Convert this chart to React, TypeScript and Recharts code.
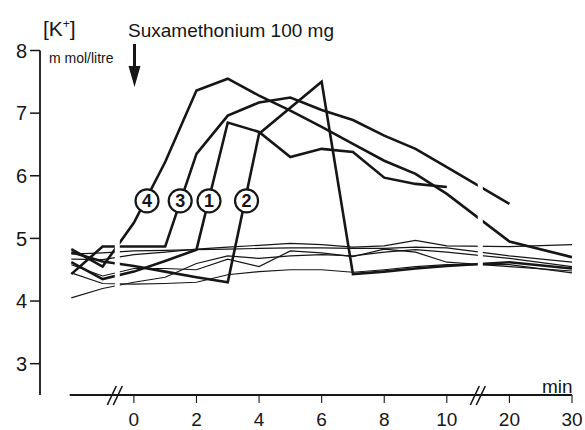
import React from 'react';
import { LineChart, Line, XAxis, YAxis, ReferenceArea, ReferenceLine, ReferenceDot } from 'recharts';

// time in minutes (axis is broken between 10 and 20 min, and before 0)
const minutes = [-2, -1, 0, 1, 2, 3, 4, 5, 6, 7, 8, 9, 10, 20, 30];
const xTicks = [0, 2, 4, 6, 8, 10, 20, 30];
const yTicks = [3, 4, 5, 6, 7, 8];

// [K+] mmol/litre, bold labelled curves
const curve1 = [4.62, 4.35, 4.47, 4.64, 4.82, 6.85, 6.7, 6.3, 6.43, 6.38, 5.97, 5.87, 5.82, null, null];
const curve2 = [4.78, 4.63, 4.56, 4.47, 4.38, 4.3, 6.67, null, 7.5, 4.43, 4.47, 4.52, 4.56, 4.62, 4.52];
const curve3 = [4.43, 4.87, 4.87, 4.87, 6.35, 6.96, 7.17, 7.25, 7.05, 6.89, 6.64, 6.43, 6.14, 5.55, null];
const curve4 = [4.83, 4.55, 5.25, 6.22, 7.36, 7.55, 7.28, 7.04, 6.78, 6.51, 6.24, 6.03, 5.71, 4.95, 4.7];

// thin (unlabelled) curves
const thinA = [4.67, 4.66, 4.74, 4.78, 4.83, 4.86, 4.89, 4.92, 4.9, 4.86, 4.88, 4.97, 4.88, 4.87, 4.9];
const thinB = [4.75, 4.77, 4.8, 4.81, 4.82, 4.83, 4.84, 4.85, 4.85, 4.84, 4.84, 4.86, 4.85, 4.72, 4.62];
const thinC = [4.58, 4.4, 4.52, 4.52, 4.5, 4.67, 4.55, 4.8, 4.77, 4.71, 4.83, 4.78, 4.62, 4.55, 4.48];
const thinD = [4.05, 4.2, 4.3, 4.38, 4.6, 4.72, 4.68, 4.72, 4.74, 4.72, 4.78, 4.82, 4.78, 4.68, 4.55];
const thinE = [4.45, 4.28, 4.27, 4.28, 4.3, 4.42, 4.47, 4.5, 4.5, 4.46, 4.5, 4.55, 4.58, 4.58, 4.45];

const curveLabels = ['4', '3', '1', '2'];
const curveLabelMinutes = [0.42, 1.48, 2.4, 3.6];
const curveLabelLevel = 5.6;

// broken axis: 10..30 min compressed 5x
const toPos = (m: number) => (m <= 10 ? m : 10 + (m - 10) / 5);
const fromPos = (p: number) => (p <= 10 ? p : 10 + (p - 10) * 5);

const data = minutes.map((m, i) => ({
  t: toPos(m),
  c1: curve1[i], c2: curve2[i], c3: curve3[i], c4: curve4[i],
  tA: thinA[i], tB: thinB[i], tC: thinC[i], tD: thinD[i], tE: thinE[i],
}));

const INK = '#161616';
const FONT = '"Liberation Sans", Arial, sans-serif';

const CircleLabel = (text: string) => (props: any) => {
  const { cx, cy } = props;
  return (
    <g>
      <circle cx={cx} cy={cy} r={11.5} fill="#fff" stroke={INK} strokeWidth={2.2} />
      <text x={cx} y={cy} dy="0.36em" textAnchor="middle" fontSize={18} fontWeight="bold" fill={INK} fontFamily={FONT}>{text}</text>
    </g>
  );
};

const BreakMark = (props: any) => {
  const { cx, cy } = props;
  return (
    <g stroke={INK} strokeWidth={1.6}>
      <line x1={cx - 10} y1={cy + 10} x2={cx - 1} y2={cy - 9} />
      <line x1={cx - 4} y1={cy + 10} x2={cx + 5} y2={cy - 9} />
    </g>
  );
};

const bold = ['c1', 'c2', 'c3', 'c4'];
const thin = ['tA', 'tB', 'tC', 'tD', 'tE'];

export default function App() {
  return (
    <div style={{ position: 'absolute', left: 0, top: 0, width: 585, height: 430, background: '#fff', fontFamily: FONT }}>
      <LineChart width={585} height={430} data={data} margin={{ top: 50.5, right: 13, bottom: 5, left: 0 }}>
        <XAxis
          dataKey="t"
          type="number"
          domain={[-3, 14]}
          ticks={xTicks.map(toPos)}
          tickFormatter={(v: number) => String(Math.round(fromPos(v)))}
          axisLine={false}
          tickLine={{ stroke: INK, strokeWidth: 1.1 }}
          tickSize={8}
          tickMargin={10}
          height={30}
          tick={{ fill: INK, fontSize: 19, fontFamily: FONT }}
          allowDataOverflow
        />
        <YAxis
          type="number"
          domain={[2.5, 8]}
          ticks={yTicks}
          width={40}
          tickSize={10}
          tickMargin={3}
          axisLine={{ stroke: INK, strokeWidth: 1.8 }}
          tickLine={{ stroke: INK, strokeWidth: 1.5 }}
          tick={{ fill: INK, fontSize: 20, fontFamily: FONT }}
          allowDataOverflow
        />
        {thin.map((k) => (
          <Line key={k} dataKey={k} stroke={INK} strokeWidth={1.2} dot={false} connectNulls isAnimationActive={false} />
        ))}
        {bold.map((k) => (
          <Line key={k} dataKey={k} stroke={INK} strokeWidth={2.6} dot={false} connectNulls isAnimationActive={false} />
        ))}
        <ReferenceArea x1={-0.61} x2={-0.45} y1={3.8} y2={7.95} fill="#fff" fillOpacity={1} stroke="none" ifOverflow="visible" zIndex={450} />
        <ReferenceArea x1={10.99} x2={11.15} y1={3.8} y2={7.95} fill="#fff" fillOpacity={1} stroke="none" ifOverflow="visible" zIndex={450} />
        <ReferenceLine segment={[{ x: -2.05, y: 2.5 }, { x: 14, y: 2.5 }]} stroke={INK} strokeWidth={1.8} ifOverflow="visible" zIndex={500} />
        <ReferenceDot x={-0.53} y={2.5} r={1} shape={BreakMark} ifOverflow="visible" zIndex={600} />
        <ReferenceDot x={11.07} y={2.5} r={1} shape={BreakMark} ifOverflow="visible" zIndex={600} />
        {curveLabels.map((lab, i) => (
          <ReferenceDot key={lab} x={curveLabelMinutes[i]} y={curveLabelLevel} r={11} shape={CircleLabel(lab)} ifOverflow="visible" zIndex={700} />
        ))}
      </LineChart>
      <svg width={585} height={430} style={{ position: 'absolute', left: 0, top: 0, pointerEvents: 'none' }}>
        <text x={43} y={36} fontSize={21} fill={INK} fontFamily={FONT}>
          [K<tspan fontSize={12} dy={-8}>+</tspan><tspan dy={8}>]</tspan>
        </text>
        <text x={128} y={37} fontSize={19} fill={INK} fontFamily={FONT}>Suxamethonium 100 mg</text>
        <text x={49} y={63} fontSize={14} fill={INK} fontFamily={FONT}>m mol/litre</text>
        <text x={542} y={393} fontSize={19} fill={INK} fontFamily={FONT}>min</text>
        <line x1={134.5} y1={44} x2={134.5} y2={72} stroke={INK} strokeWidth={3} />
        <polygon points="128.5,66 140.5,66 134.5,87" fill={INK} />
      </svg>
    </div>
  );
}
